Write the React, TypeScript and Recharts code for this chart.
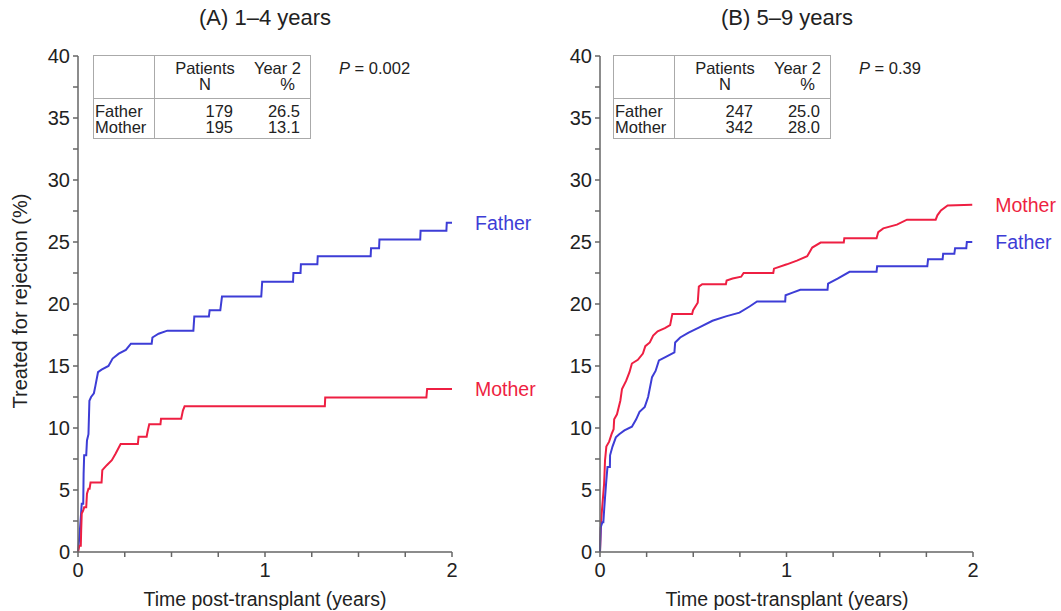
import React from 'react';
import { LineChart, Line, XAxis, YAxis } from 'recharts';

const FONT = '"Liberation Sans", Arial, Helvetica, sans-serif';
const BLUE = '#3d3dd6';
const RED = '#ee1f42';
const AXIS = '#666';

const xTicks = [0, 0.25, 0.5, 0.75, 1, 1.25, 1.5, 1.75, 2];
const yTicks = [0, 2.5, 5, 7.5, 10, 12.5, 15, 17.5, 20, 22.5, 25, 27.5, 30, 32.5, 35, 37.5, 40];

// Panel A (1–4 years)
const fatherA_t = [0, 0.009, 0.015, 0.02, 0.028, 0.03, 0.033, 0.044, 0.048, 0.056, 0.061, 0.07, 0.085, 0.093, 0.107, 0.126, 0.163, 0.185, 0.218, 0.256, 0.283, 0.394, 0.398, 0.431, 0.478, 0.617, 0.622, 0.7, 0.704, 0.761, 0.77, 0.98, 0.985, 1.15, 1.152, 1.19, 1.192, 1.28, 1.282, 1.565, 1.567, 1.61, 1.612, 1.83, 1.832, 1.97, 1.972, 2.0];
const fatherA_v = [0, 1.5, 2.8, 3.9, 3.9, 6.3, 7.8, 7.8, 9.0, 9.5, 12.2, 12.5, 12.8, 13.4, 14.5, 14.7, 15.0, 15.6, 16.0, 16.3, 16.8, 16.8, 17.3, 17.6, 17.85, 17.85, 19.0, 19.0, 19.5, 19.5, 20.6, 20.6, 21.8, 21.8, 22.5, 22.5, 23.2, 23.2, 23.85, 23.85, 24.5, 24.5, 25.2, 25.2, 25.9, 25.9, 26.55, 26.55];

const motherA_t = [0, 0.007, 0.015, 0.017, 0.02, 0.028, 0.033, 0.044, 0.048, 0.056, 0.062, 0.067, 0.126, 0.13, 0.154, 0.181, 0.2, 0.228, 0.32, 0.324, 0.367, 0.372, 0.381, 0.441, 0.444, 0.552, 0.561, 0.57, 1.32, 1.322, 1.863, 1.867, 2.0];
const motherA_v = [0, 0.5, 0.5, 1.75, 3.1, 3.35, 3.6, 3.6, 4.7, 5.1, 5.1, 5.6, 5.6, 6.6, 7.0, 7.4, 7.9, 8.7, 8.7, 9.3, 9.3, 9.7, 10.3, 10.3, 10.75, 10.75, 11.4, 11.75, 11.75, 12.45, 12.45, 13.15, 13.15];

// Panel B (5–9 years)
const motherB_t = [0, 0.004, 0.009, 0.015, 0.022, 0.027, 0.034, 0.049, 0.062, 0.073, 0.076, 0.091, 0.109, 0.118, 0.14, 0.158, 0.171, 0.203, 0.23, 0.243, 0.267, 0.285, 0.309, 0.348, 0.376, 0.388, 0.494, 0.499, 0.524, 0.53, 0.548, 0.675, 0.679, 0.711, 0.757, 0.77, 0.929, 0.933, 1.002, 1.056, 1.111, 1.138, 1.183, 1.307, 1.31, 1.483, 1.492, 1.519, 1.592, 1.646, 1.8, 1.809, 1.828, 1.864, 1.996];
const motherB_v = [0, 1.75, 3.1, 4.2, 5.5, 7.4, 8.5, 8.9, 9.5, 9.9, 10.7, 11.1, 12.2, 13.15, 13.8, 14.5, 15.2, 15.5, 16.0, 16.6, 16.9, 17.45, 17.8, 18.05, 18.3, 19.2, 19.2, 19.5, 20.1, 21.4, 21.6, 21.6, 21.9, 22.05, 22.2, 22.5, 22.5, 22.85, 23.2, 23.5, 23.85, 24.55, 24.95, 24.95, 25.3, 25.3, 25.8, 26.1, 26.4, 26.8, 26.8, 27.15, 27.55, 27.95, 28.0];

const fatherB_t = [0, 0.004, 0.013, 0.018, 0.022, 0.027, 0.033, 0.04, 0.053, 0.054, 0.067, 0.085, 0.103, 0.131, 0.171, 0.194, 0.212, 0.24, 0.258, 0.279, 0.298, 0.316, 0.348, 0.399, 0.403, 0.43, 0.475, 0.53, 0.603, 0.675, 0.748, 0.802, 0.842, 0.993, 0.995, 1.029, 1.074, 1.22, 1.223, 1.274, 1.338, 1.483, 1.486, 1.755, 1.759, 1.837, 1.84, 1.9, 1.904, 1.964, 1.967, 1.996];
const fatherB_v = [0, 2.0, 2.4, 2.4, 3.35, 4.4, 5.6, 6.85, 6.85, 7.8, 8.5, 9.25, 9.5, 9.8, 10.1, 10.7, 11.3, 11.7, 12.5, 14.1, 14.6, 15.45, 15.7, 16.1, 16.9, 17.3, 17.7, 18.1, 18.65, 19.0, 19.3, 19.8, 20.2, 20.2, 20.7, 20.9, 21.15, 21.15, 21.65, 22.05, 22.6, 22.6, 23.05, 23.05, 23.6, 23.6, 24.05, 24.05, 24.5, 24.5, 25.0, 25.0];

const panelTitles = ['(A) 1\u20134 years', '(B) 5\u20139 years'];
const tableA = { p: '0.002', rows: [['Father', '179', '26.5'], ['Mother', '195', '13.1']] };
const tableB = { p: '0.39', rows: [['Father', '247', '25.0'], ['Mother', '342', '28.0']] };

const toData = (t: number[], v: number[]) => t.map((x, i) => ({ t: x, v: v[i] }));

const XTick = (props: any) => {
  const { x, y, payload } = props;
  if (!Number.isInteger(payload.value)) return null;
  return (
    <text x={x} y={y + 18} textAnchor="middle" fontSize={20} fontFamily={FONT} fill="#222">
      {payload.value}
    </text>
  );
};

const YTick = (props: any) => {
  const { x, y, payload } = props;
  if (payload.value % 5 !== 0) return null;
  return (
    <text x={x - 1} y={y + 7} textAnchor="end" fontSize={20} fontFamily={FONT} fill="#222">
      {payload.value}
    </text>
  );
};

const endLabel = (name: string, color: string, n: number) => (props: any) => {
  const { x, y, index } = props;
  if (index !== n - 1) return null;
  return (
    <text key={name} x={x + 23} y={y + 7} fontSize={19.5} fontFamily={FONT} fill={color}>
      {name}
    </text>
  );
};

const Table = ({ left, top, data }: { left: number; top: number; data: typeof tableA }) => {
  const cell: React.CSSProperties = { position: 'absolute', fontSize: 16.5, lineHeight: '16px', color: '#222', fontFamily: FONT, whiteSpace: 'nowrap' };
  return (
    <div style={{ position: 'absolute', left, top, width: 217, height: 83 }}>
      <div style={{ position: 'absolute', left: 0, top: 0, width: 216, height: 82, border: '1px solid #aaa' }} />
      <div style={{ position: 'absolute', left: 61, top: 0, width: 1, height: 84, background: '#aaa' }} />
      <div style={{ position: 'absolute', left: 0, top: 43, width: 218, height: 1, background: '#aaa' }} />
      <div style={{ ...cell, left: 62, width: 100, top: 5, textAlign: 'center' }}>Patients<br />N</div>
      <div style={{ ...cell, left: 148, width: 60, top: 5, textAlign: 'right' }}>Year 2<br /><span style={{ paddingRight: 6 }}>%</span></div>
      {data.rows.map((r, i) => (
        <React.Fragment key={r[0]}>
          <div style={{ ...cell, left: 2, top: 48 + i * 16 }}>{r[0]}</div>
          <div style={{ ...cell, left: 100, width: 40, top: 48 + i * 16, textAlign: 'right' }}>{r[1]}</div>
          <div style={{ ...cell, left: 150, width: 57, top: 48 + i * 16, textAlign: 'right' }}>{r[2]}</div>
        </React.Fragment>
      ))}
      <div style={{ ...cell, left: 246, top: 5 }}><i>P</i> = {data.p}</div>
    </div>
  );
};

const Panel = ({ left, width, marginLeft, marginRight, series }: any) => (
  <div style={{ position: 'absolute', left, top: 0 }}>
    <LineChart width={width} height={611} margin={{ top: 56, right: marginRight, bottom: 29, left: marginLeft }}>
      <XAxis
        type="number"
        dataKey="t"
        domain={[0, 2]}
        ticks={xTicks}
        interval={0}
        allowDuplicatedCategory={false}
        tick={<XTick />}
        tickSize={5}
        height={30}
        stroke={AXIS}
        strokeWidth={1.5}
      />
      <YAxis
        type="number"
        domain={[0, 40]}
        ticks={yTicks}
        interval={0}
        tick={<YTick />}
        tickSize={5}
        width={50}
        stroke={AXIS}
        strokeWidth={1.5}
      />
      {series.map((s: any) => (
        <Line
          key={s.name}
          data={s.data}
          dataKey="v"
          type="linear"
          stroke={s.color}
          strokeWidth={2}
          dot={false}
          activeDot={false}
          isAnimationActive={false}
          label={endLabel(s.name, s.color, s.data.length)}
        />
      ))}
    </LineChart>
  </div>
);

export default function App() {
  const seriesA = [
    { name: 'Father', color: BLUE, data: toData(fatherA_t, fatherA_v) },
    { name: 'Mother', color: RED, data: toData(motherA_t, motherA_v) },
  ];
  const seriesB = [
    { name: 'Mother', color: RED, data: toData(motherB_t, motherB_v) },
    { name: 'Father', color: BLUE, data: toData(fatherB_t, fatherB_v) },
  ];
  const title: React.CSSProperties = { position: 'absolute', top: 5, width: 300, textAlign: 'center', fontSize: 22, lineHeight: '26px', fontFamily: FONT, color: '#222' };
  const xLabel: React.CSSProperties = { position: 'absolute', top: 588, width: 320, textAlign: 'center', fontSize: 19.5, lineHeight: '22px', fontFamily: FONT, color: '#222' };
  return (
    <div style={{ position: 'absolute', left: 0, top: 0, width: 1061, height: 611, background: '#fff', overflow: 'hidden', fontFamily: FONT }}>
      <Panel left={0} width={550} marginLeft={28} marginRight={98} series={seriesA} />
      <Panel left={530} width={531} marginLeft={20} marginRight={88} series={seriesB} />
      <div style={{ ...title, left: 265 - 150 }}>{panelTitles[0]}</div>
      <div style={{ ...title, left: 787 - 150 }}>{panelTitles[1]}</div>
      <div style={{ ...xLabel, left: 265 - 160 }}>Time post-transplant (years)</div>
      <div style={{ ...xLabel, left: 787 - 160 }}>Time post-transplant (years)</div>
      <div style={{ position: 'absolute', left: 20 - 150, top: 301 - 11, width: 300, textAlign: 'center', fontSize: 20, lineHeight: '22px', fontFamily: FONT, color: '#222', transform: 'rotate(-90deg)' }}>
        Treated for rejection (%)
      </div>
      <Table left={93} top={55} data={tableA} />
      <Table left={613} top={55} data={tableB} />
    </div>
  );
}
